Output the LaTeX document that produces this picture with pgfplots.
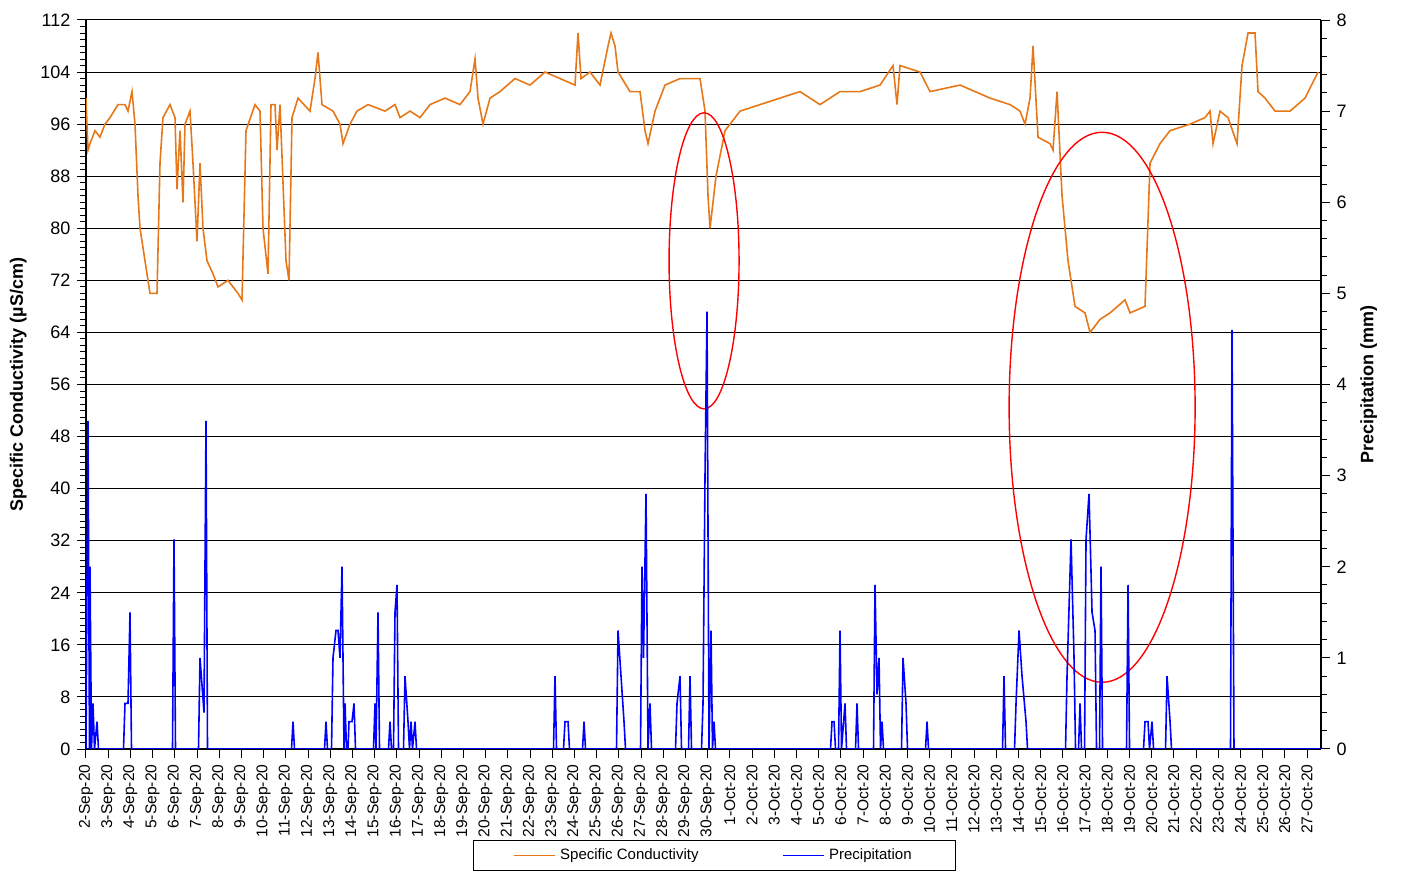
\documentclass[border=0pt]{standalone}
\usepackage{pgfplots}
\pgfplotsset{compat=1.18}
\usepackage{fontspec}
\setmainfont{Liberation Sans}
\definecolor{cond}{RGB}{230,120,25}
\begin{document}
\begin{tikzpicture}[x=1pt,y=1pt]
\useasboundingbox (-43pt,-61pt) rectangle (662.5pt,374.5pt);
\pgfplotsset{every axis/.append style={scale only axis,width=617.5pt,height=364.5pt,xmin=0,xmax=55.63,
 font=\fontsize{8}{9}\selectfont, /pgf/number format/assume math mode=true}}
\begin{axis}[
 ymin=0,ymax=112,ytick={0,8,...,112},minor y tick num=7,
 ymajorgrids, grid style={black,line width=0.5pt}, major grid style={black,line width=0.5pt},
 axis y line*=left, axis x line*=bottom,
 xtick={0,...,55},
 xticklabels={2-Sep-20,3-Sep-20,4-Sep-20,5-Sep-20,6-Sep-20,7-Sep-20,8-Sep-20,9-Sep-20,10-Sep-20,11-Sep-20,12-Sep-20,13-Sep-20,14-Sep-20,15-Sep-20,16-Sep-20,17-Sep-20,18-Sep-20,19-Sep-20,20-Sep-20,21-Sep-20,22-Sep-20,23-Sep-20,24-Sep-20,25-Sep-20,26-Sep-20,27-Sep-20,28-Sep-20,29-Sep-20,30-Sep-20,1-Oct-20,2-Oct-20,3-Oct-20,4-Oct-20,5-Oct-20,6-Oct-20,7-Oct-20,8-Oct-20,9-Oct-20,10-Oct-20,11-Oct-20,12-Oct-20,13-Oct-20,14-Oct-20,15-Oct-20,16-Oct-20,17-Oct-20,18-Oct-20,19-Oct-20,20-Oct-20,21-Oct-20,22-Oct-20,23-Oct-20,24-Oct-20,25-Oct-20,26-Oct-20,27-Oct-20},
 xticklabel style={rotate=90,anchor=east,font=\fontsize{7.8}{8}\selectfont},
 yticklabel style={font=\fontsize{9}{10}\selectfont},
 tick align=outside, tick style={black,line width=0.5pt}, axis line style={black,line width=0.7pt},
 ylabel={\textbf{Specific Conductivity  (µS/cm)}}, ylabel style={font=\fontsize{9}{10}\selectfont},
 legend style={at={(0.509,-0.167)},anchor=south,legend columns=2,draw=black,font=\fontsize{7.5}{8}\selectfont,
   /tikz/every even column/.append style={column sep=40pt},inner xsep=20pt},
 legend image post style={xscale=1.2}
]
\addplot[cond,line width=0.8pt] table[x expr=(\thisrowno{0}-86)/22.2,y index=1]{
86 100
88 92
90 93
95 95
100 94
105 96
110 97
118 99
125 99
128 98
132 101
135 96
138 85
140 80
145 75
150 70
157 70
160 90
163 97
170 99
175 97
177 86
180 95
183 84
185 96
190 98
193 90
197 78
200 90
203 80
207 75
213 73
218 71
228 72
238 70
242 69
246 95
255 99
260 98
263 80
268 73
271 99
275 99
277 92
280 99
286 75
289 72
292 97
298 100
310 98
315 103
318 107
322 99
333 98
340 96
343 93
350 96
357 98
368 99
385 98
395 99
400 97
410 98
420 97
430 99
445 100
460 99
470 101
475 106
478 100
483 96
490 100
500 101
515 103
530 102
545 104
560 103
575 102
578 110
581 103
590 104
600 102
608 108
611 110
615 108
618 104
630 101
640 101
645 95
648 93
655 98
665 102
680 103
700 103
705 98
708 85
710 80
716 88
725 95
740 98
760 99
780 100
800 101
820 99
840 101
860 101
880 102
893 105
897 99
900 105
920 104
930 101
960 102
990 100
1010 99
1020 98
1025 96
1030 100
1033 108
1038 94
1050 93
1053 92
1057 101
1062 85
1068 75
1075 68
1085 67
1090 64
1100 66
1110 67
1125 69
1130 67
1145 68
1150 90
1160 93
1170 95
1190 96
1205 97
1210 98
1213 93
1220 98
1228 97
1237 93
1242 105
1248 110
1255 110
1258 101
1265 100
1275 98
1290 98
1305 100
1318 104
};
\addlegendentry{Specific Conductivity}
\addlegendimage{blue,line width=0.8pt}
\addlegendentry{Precipitation}
\draw[red,line width=0.7pt] (axis cs:27.84,75) ellipse [x radius=17.5pt, y radius=74pt];
\draw[red,line width=0.7pt] (axis cs:45.77,52.5) ellipse [x radius=46.5pt, y radius=137.5pt];
\end{axis}
\begin{axis}[
 ymin=0,ymax=8,ytick={0,...,8},minor y tick num=4,
 axis y line*=right, axis x line=none,
 tick align=outside, tick style={black,line width=0.5pt}, axis line style={black,line width=0.7pt},
 yticklabel style={font=\fontsize{9}{10}\selectfont},
 ylabel={\textbf{Precipitation (mm)}}, ylabel style={font=\fontsize{9}{10}\selectfont}
]
\addplot[blue,line width=0.8pt] table[x expr=(\thisrowno{0}-86)/22.2,y index=1]{
86 0
88 3.6
89.5 0
90 2.0
91.5 0
93 0.5
94.5 0
97 0.3
98.5 0
123.5 0
125 0.5
128 0.5
130 1.5
131.5 0
172.5 0
174 2.3
175.5 0
198.5 0
200 1.0
204 0.4
206 3.6
207.5 0
291.5 0
293 0.3
294.5 0
324.5 0
326 0.3
327.5 0
331.5 0
333 1.0
336 1.3
338 1.3
340 1.0
342 2.0
344 0
345 0.5
346.5 0
348 0
349 0.3
352 0.3
354 0.5
355.5 0
373.5 0
375 0.5
376 0
378 1.5
379.5 0
388.5 0
390 0.3
391.5 0
393.5 0
395 1.5
397 1.8
398.5 0
403.5 0
405 0.8
408 0.3
409.5 0
411 0.3
412.5 0
415 0.3
416.5 0
553.5 0
555 0.8
556.5 0
563.5 0
565 0.3
568 0.3
569.5 0
582.5 0
584 0.3
585.5 0
616.5 0
618 1.3
621 0.8
624 0.3
625.5 0
640.5 0
642 2.0
643.5 1.0
646 2.8
648 0
650 0.5
651.5 0
675.5 0
677 0.5
680 0.8
681.5 0
688.5 0
690 0.8
691.5 0
701.5 0
703 0.5
705 3.0
707 4.8
709 0
711 1.3
712.5 0
714 0.3
715.5 0
830.5 0
832 0.3
834 0.3
835.5 0
838.5 0
840 1.3
841.5 0
845 0.5
846.5 0
855.5 0
857 0.5
858.5 0
873.5 0
875 1.8
877 0.6
879 1.0
880.5 0
882 0.3
883.5 0
901.5 0
903 1.0
906 0.5
907.5 0
925.5 0
927 0.3
928.5 0
1002.5 0
1004 0.8
1005.5 0
1014.5 0
1016 0.5
1019 1.3
1022 0.8
1026 0.3
1027.5 0
1065.5 0
1067 0.8
1071 2.3
1074 1.0
1075.5 0
1078.5 0
1080 0.5
1081.5 0
1084.5 0
1086 2.3
1089 2.8
1092 1.5
1095 1.3
1096.5 0
1099.5 0
1101 2.0
1102.5 0
1126.5 0
1128 1.8
1129.5 0
1143.5 0
1145 0.3
1148 0.3
1149.5 0
1152 0.3
1153.5 0
1165.5 0
1167 0.8
1170 0.3
1171.5 0
1230.5 0
1232 4.6
1234 0
1321 0
};
\end{axis}
\end{tikzpicture}
\end{document}
